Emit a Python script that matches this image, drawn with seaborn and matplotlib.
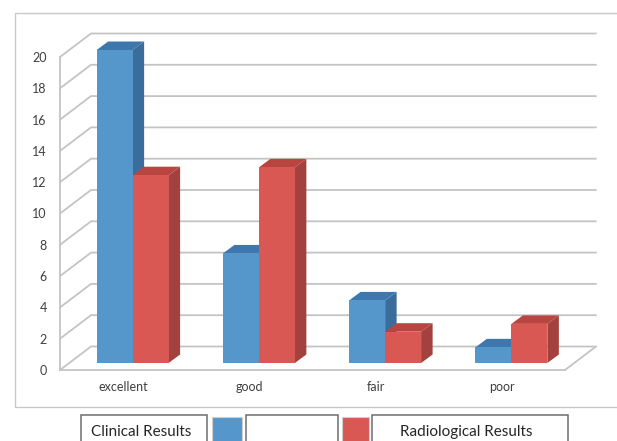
import matplotlib
matplotlib.use("Agg")
import matplotlib.pyplot as plt
import numpy as np
import pandas as pd
import seaborn as sns
from matplotlib.patches import Polygon, Rectangle
from matplotlib.lines import Line2D
from matplotlib.transforms import IdentityTransform, ScaledTranslation

# ---- data -------------------------------------------------------------
categories = ["excellent", "good", "fair", "poor"]
clinical = [20, 7, 4, 1]
radiological = [12, 12.5, 2, 2.5]
series_names = ["Clinical Results", "Radiological Results"]
y_ticks = list(range(0, 21, 2))

# ---- style ------------------------------------------------------------
sns.set_style("white")
plt.rcParams["font.family"] = ["Lato", "DejaVu Sans"]

BLUE, BLUE_SIDE, BLUE_TOP = "#5597CA", "#3B6D9C", "#3E77AB"
RED, RED_SIDE, RED_TOP = "#D95853", "#A2413E", "#B94541"
GRID = "#C4C4C4"
TEXT = "#404040"

W, H = 617, 441
fig = plt.figure(figsize=(W / 100, H / 100), dpi=100)
fig.patch.set_facecolor("white")

# front plane of the 3-D box: x 60..565 px, y 370..57 px (image coords)
ax = fig.add_axes([60 / W, (H - 370) / H, 505 / W, 313 / H])
ax.set_facecolor("none")

df = pd.DataFrame({
    "category": categories * 2,
    "series": [series_names[0]] * len(categories) + [series_names[1]] * len(categories),
    "value": clinical + radiological,
})

sns.barplot(data=df, x="category", y="value", hue="series",
            order=categories, hue_order=series_names,
            palette=[BLUE, RED], width=0.57, saturation=1,
            errorbar=None, legend=False, ax=ax, zorder=3, linewidth=0)

ax.set_xlim(-0.5, len(categories) - 0.5)
ax.set_ylim(0, 20)
ax.set_xlabel("")
ax.set_ylabel("")
ax.set_yticks(y_ticks)
ax.set_yticklabels([str(t) for t in y_ticks])
ax.set_xticks(np.arange(-0.5, len(categories), 1.0), minor=True)
ax.tick_params(axis="y", length=3, width=1.2, color=GRID, labelcolor=TEXT,
               labelsize=9, pad=6.5)
ax.tick_params(axis="x", which="major", length=0, labelcolor=TEXT,
               labelsize=9, pad=8)
ax.tick_params(axis="x", which="minor", length=4, width=1.2, color=GRID)
for s in ("top", "right"):
    ax.spines[s].set_visible(False)
for s in ("left", "bottom"):
    ax.spines[s].set_color(GRID)
    ax.spines[s].set_linewidth(1.3)

fig.canvas.draw()

# depth geometry in pixels (display coords, y up)
BACK_DX, BACK_DY = 31.0, 23.5     # depth of the whole box
BAR_DX, BAR_DY = 9.5, 7.0         # bars sit a third of the way back
BAR_DEPTH_X, BAR_DEPTH_Y = 11.5, 8.5
ident = IdentityTransform()


def px(x, y):
    return ax.transData.transform((x, y))


# side wall diagonals and back wall gridlines
x_left, x_right = -0.5, len(categories) - 0.5
for v in y_ticks:
    fx, fy = px(x_left, v)
    rx, _ = px(x_right, v)
    ax.add_line(Line2D([fx, fx + BACK_DX, rx + BACK_DX], [fy, fy + BACK_DY, fy + BACK_DY],
                       transform=ident, color=GRID, lw=1.3, zorder=0.5, clip_on=False))
# right edge of the floor
rx, ry = px(x_right, 0)
ax.add_line(Line2D([rx, rx + BACK_DX], [ry, ry + BACK_DY], transform=ident,
                   color=GRID, lw=1.3, zorder=0.5, clip_on=False))

# shift bar fronts back into the box and give them sides and tops
shift = ScaledTranslation(BAR_DX / 100, BAR_DY / 100, fig.dpi_scale_trans)
bars = [p for p in ax.patches if isinstance(p, Rectangle)]
n = len(categories)
for i, bar in enumerate(bars):
    side_c, top_c = (BLUE_SIDE, BLUE_TOP) if i < n else (RED_SIDE, RED_TOP)
    x0 = bar.get_x()
    x1 = x0 + bar.get_width()
    h = bar.get_height()
    (ax0, ay0), (ax1, ay1) = px(x0, 0), px(x1, h)
    ax0 += BAR_DX; ax1 += BAR_DX; ay0 += BAR_DY; ay1 += BAR_DY
    side = Polygon([(ax1, ay0), (ax1, ay1), (ax1 + BAR_DEPTH_X, ay1 + BAR_DEPTH_Y),
                    (ax1 + BAR_DEPTH_X, ay0 + BAR_DEPTH_Y)], closed=True,
                   transform=ident, facecolor=side_c, edgecolor="none",
                   zorder=2, clip_on=False)
    top = Polygon([(ax0, ay1), (ax1, ay1), (ax1 + BAR_DEPTH_X, ay1 + BAR_DEPTH_Y),
                   (ax0 + BAR_DEPTH_X, ay1 + BAR_DEPTH_Y)], closed=True,
                  transform=ident, facecolor=top_c, edgecolor="none",
                  zorder=2, clip_on=False)
    ax.add_patch(side)
    ax.add_patch(top)
    bar.set_transform(ax.transData + shift)
    bar.set_clip_on(False)

# ---- chart frame and legend boxes (figure pixels, image coords) --------


def frect(x0, y0, x1, y1, **kw):
    fig.add_artist(Rectangle((x0 / W, 1 - y1 / H), (x1 - x0) / W, (y1 - y0) / H,
                             transform=fig.transFigure, **kw))


frect(15, 13, W + 5, 407, facecolor="none", edgecolor="#C8C8C8", lw=1.0)

BOX = "#6E6E6E"
frect(80.5, 415, 206.5, H + 5, facecolor="white", edgecolor=BOX, lw=1.1)
frect(211.5, 417, 241.5, H + 5, facecolor=BLUE, edgecolor="#D0D0D0", lw=0.8)
frect(246, 415, 338, H + 5, facecolor="white", edgecolor=BOX, lw=1.1)
frect(341.5, 417, 368.5, H + 5, facecolor=RED, edgecolor="#D0D0D0", lw=0.8)
frect(372.5, 415, 568, H + 5, facecolor="white", edgecolor=BOX, lw=1.1)

fig.text(91.5 / W, 1 - 432 / H, series_names[0], ha="left", va="center",
         fontsize=11, color="#262626")
fig.text(400 / W, 1 - 432 / H, series_names[1], ha="left", va="center",
         fontsize=11, color="#262626")

fig.savefig("out.png", dpi=100, facecolor="white")
